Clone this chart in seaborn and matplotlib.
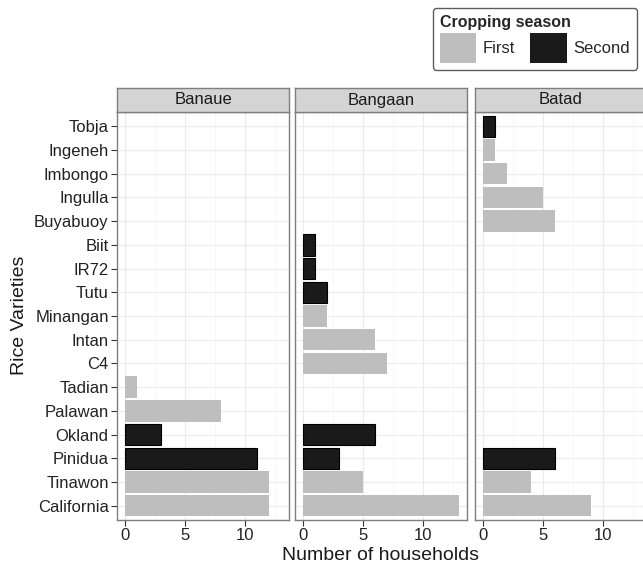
"""
Rice varieties grown per household, by site and cropping season.
"""

import pandas as pd
import matplotlib
matplotlib.use("Agg")
import matplotlib.pyplot as plt
from matplotlib.patches import Patch
import seaborn as sns

# Data
varieties = ['Tobja', 'Ingeneh', 'Imbongo', 'Ingulla', 'Buyabuoy', 'Biit', 'IR72',
             'Tutu', 'Minangan', 'Intan', 'C4', 'Tadian', 'Palawan', 'Okland',
             'Pinidua', 'Tinawon', 'California']
sites = ['Banaue', 'Bangaan', 'Batad']
seasons = ['First', 'Second']

banaue_variety = ['Tadian', 'Palawan', 'Okland', 'Pinidua', 'Tinawon', 'California']
banaue_season = ['First', 'First', 'Second', 'Second', 'First', 'First']
banaue_n = [1, 8, 3, 11, 12, 12]

bangaan_variety = ['Biit', 'IR72', 'Tutu', 'Minangan', 'Intan', 'C4', 'Okland',
                   'Pinidua', 'Tinawon', 'California']
bangaan_season = ['Second', 'Second', 'Second', 'First', 'First', 'First', 'Second',
                  'Second', 'First', 'First']
bangaan_n = [1, 1, 2, 2, 6, 7, 6, 3, 5, 13]

batad_variety = ['Tobja', 'Ingeneh', 'Imbongo', 'Ingulla', 'Buyabuoy', 'Pinidua',
                 'Tinawon', 'California']
batad_season = ['Second', 'First', 'First', 'First', 'First', 'Second', 'First', 'First']
batad_n = [1, 1, 2, 5, 6, 6, 4, 9]

frames = []
for site, v, s, n in [('Banaue', banaue_variety, banaue_season, banaue_n),
                      ('Bangaan', bangaan_variety, bangaan_season, bangaan_n),
                      ('Batad', batad_variety, batad_season, batad_n)]:
    frames.append(pd.DataFrame({'site': site, 'variety': v, 'season': s, 'n': n}))
df = pd.concat(frames, ignore_index=True)

palette = {'First': '#bebebe', 'Second': '#1a1a1a'}

sns.set_style("white")
plt.rcParams['font.family'] = ['Liberation Sans', 'DejaVu Sans']

fig = plt.figure(figsize=(6.43, 5.69), dpi=100)
W, H = 643.0, 569.0

panel_left = [117, 295, 475]
panel_w = 172
panel_top, panel_bottom = 112, 520
strip_h = 24

xmax = df['n'].max()
for i, site in enumerate(sites):
    l = panel_left[i]
    ax = fig.add_axes([l / W, 1 - panel_bottom / H, panel_w / W,
                       (panel_bottom - panel_top) / H])
    sub = df[df['site'] == site]
    sns.barplot(data=sub, x='n', y='variety', hue='season', order=varieties,
                hue_order=seasons, palette=palette, dodge=False, width=0.9,
                saturation=1, ax=ax, legend=False)
    for bar in ax.patches:
        fc = bar.get_facecolor()
        if fc[0] < 0.5:
            bar.set_edgecolor('black')
            bar.set_linewidth(0.8)
        else:
            bar.set_edgecolor('none')
    ax.set_xlim(-0.05 * xmax, xmax * 1.05)
    ax.set_ylim(len(varieties) - 0.4, -0.6)
    ax.set_xticks([0, 5, 10])
    ax.set_xticks([2.5, 7.5, 12.5], minor=True)
    ax.grid(True, which='major', color='#ebebeb', linewidth=0.8)
    ax.grid(True, which='minor', axis='x', color='#f4f4f4', linewidth=0.5)
    ax.set_axisbelow(True)
    for sp in ax.spines.values():
        sp.set_color('#7f7f7f')
        sp.set_linewidth(1.0)
    ax.tick_params(axis='both', which='major', length=4, color='#333333',
                   labelsize=12, labelcolor='#222222', direction='out',
                   left=(i == 0), bottom=True, pad=2)
    ax.tick_params(axis='x', which='minor', length=0)
    ax.set_xlabel('')
    ax.set_ylabel('')
    if i > 0:
        ax.set_yticklabels([])

    # facet strip
    sax = fig.add_axes([l / W, 1 - panel_top / H, panel_w / W, strip_h / H])
    sax.set_facecolor('#d4d4d4')
    sax.set_xticks([])
    sax.set_yticks([])
    for sp in sax.spines.values():
        sp.set_color('#7f7f7f')
        sp.set_linewidth(1.0)
    sax.text(0.5, 0.5, site, ha='center', va='center', fontsize=12,
             color='#1a1a1a', transform=sax.transAxes)

fig.text(380 / W, 1 - 556 / H, 'Number of households', ha='center', va='center',
         fontsize=14, color='#1a1a1a')
fig.text(20 / W, 1 - 315 / H, 'Rice Varieties', ha='center', va='center',
         rotation=90, fontsize=14, color='#1a1a1a')

handles = [Patch(facecolor=palette[s], edgecolor='none') for s in seasons]
leg = fig.legend(handles, seasons, title='Cropping season', ncol=2,
                 loc='upper right', bbox_to_anchor=(637 / W, 1 - 8 / H),
                 borderaxespad=0, fontsize=12, title_fontsize=11.5,
                 frameon=True, fancybox=True,
                 handlelength=2.2, handleheight=2.4, columnspacing=0.9,
                 handletextpad=0.4, borderpad=0.4, labelspacing=0.2,
                 alignment='left')
leg.get_title().set_fontweight('bold')
leg.get_frame().set_edgecolor('#333333')
leg.get_frame().set_linewidth(1.0)

fig.savefig('out.png', dpi=100)
